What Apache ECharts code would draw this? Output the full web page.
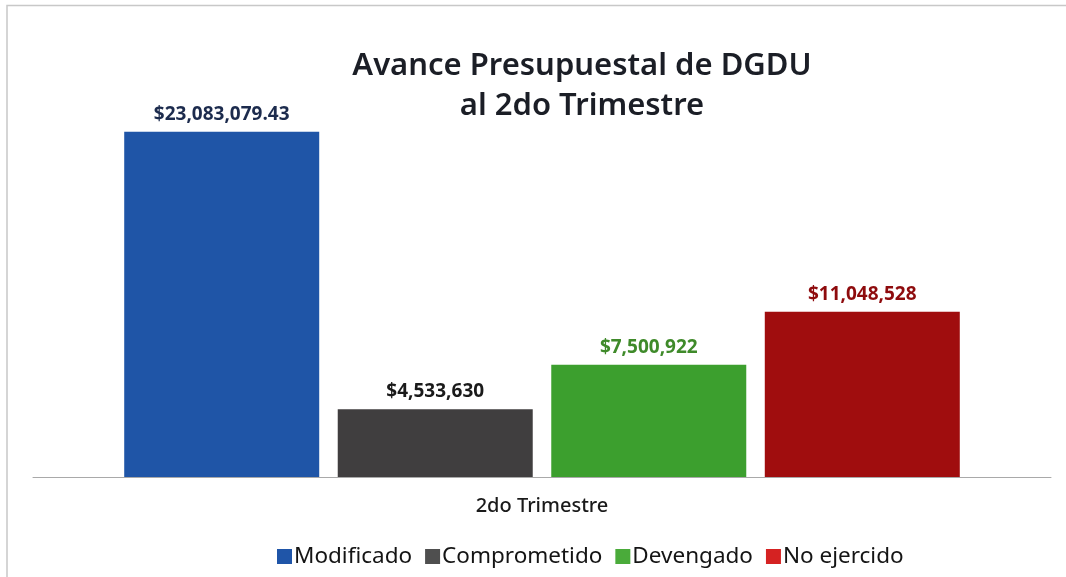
<!DOCTYPE html>
<html>
<head>
<meta charset="utf-8">
<script src="https://cdn.jsdelivr.net/npm/echarts@6/dist/echarts.min.js"></script>
<style>
  html, body { margin: 0; padding: 0; background: #fff; }
  #chart { width: 1066px; height: 577px; }
</style>
</head>
<body>
<div id="chart"></div>
<script>
// datos del avance presupuestal
const categories = ['2do Trimestre']
const seriesNames = ['Modificado', 'Comprometido', 'Devengado', 'No ejercido']
const seriesValues = [23083079.43, 4533630, 7500922, 11048528]
const barColors = ['#1f55a7', '#403e3f', '#3c9f2e', '#a00d0e']
const labelColors = ['#1c2b4d', '#1a1a1a', '#3f8a2a', '#8e0b0d']
const legendColors = ['#1f55a8', '#4f4f4f', '#4aab3a', '#d52222']

const chart = echarts.init(document.getElementById('chart'))

// formato de moneda
function money (v) {
  const hasCents = Math.round(v * 100) % 100 !== 0
  return '$' + v.toLocaleString('en-US', {
    minimumFractionDigits: hasCents ? 2 : 0,
    maximumFractionDigits: hasCents ? 2 : 0
  })
}

const series = seriesNames.map((name, i) => ({
  name: name,
  type: 'bar',
  barWidth: 195,
  barGap: '9.5%',
  data: [seriesValues[i]],
  itemStyle: { color: barColors[i] },
  label: {
    show: true,
    position: 'top',
    distance: 8,
    formatter: (p) => money(p.value),
    color: labelColors[i],
    fontFamily: 'Open Sans',
    fontWeight: 'bold',
    fontSize: 19
  }
}))

const option = {
  backgroundColor: '#ffffff',
  animation: false,
  title: {
    text: 'Avance Presupuestal de DGDU\nal 2do Trimestre',
    left: 577,
    top: 41,
    textAlign: 'center',
    textStyle: {
      fontFamily: 'Noto Sans',
      fontWeight: 600,
      fontSize: 31,
      lineHeight: 40,
      color: '#1b1e26'
    }
  },
  legend: {
    data: seriesNames.map((n, i) => ({ name: n, itemStyle: { color: legendColors[i] } })),
    left: 272,
    top: 540,
    icon: 'rect',
    itemWidth: 15,
    itemHeight: 15,
    itemGap: 13,
    textStyle: {
      fontFamily: 'Noto Sans',
      fontSize: 22.5,
      color: '#141414',
      padding: [0, 0, 0, -3]
    }
  },
  grid: {
    left: 33,
    right: 15,
    top: 103,
    bottom: 100
  },
  xAxis: {
    type: 'category',
    data: categories,
    axisLine: { lineStyle: { color: '#a9a9a9', width: 1 } },
    axisTick: { show: false },
    axisLabel: {
      margin: 19,
      fontFamily: 'Noto Sans',
      fontWeight: 500,
      fontSize: 20,
      color: '#1a1a1a'
    }
  },
  yAxis: {
    type: 'value',
    min: 0,
    max: 25000000,
    show: false,
    splitLine: { show: false }
  },
  graphic: [
    {
      type: 'polyline',
      shape: { points: [[7, 577], [7, 5.5], [1066, 5.5]] },
      style: { stroke: '#c8c8c8', lineWidth: 1.5, fill: null },
      silent: true
    }
  ],
  series: series
}

chart.setOption(option)
</script>
</body>
</html>
